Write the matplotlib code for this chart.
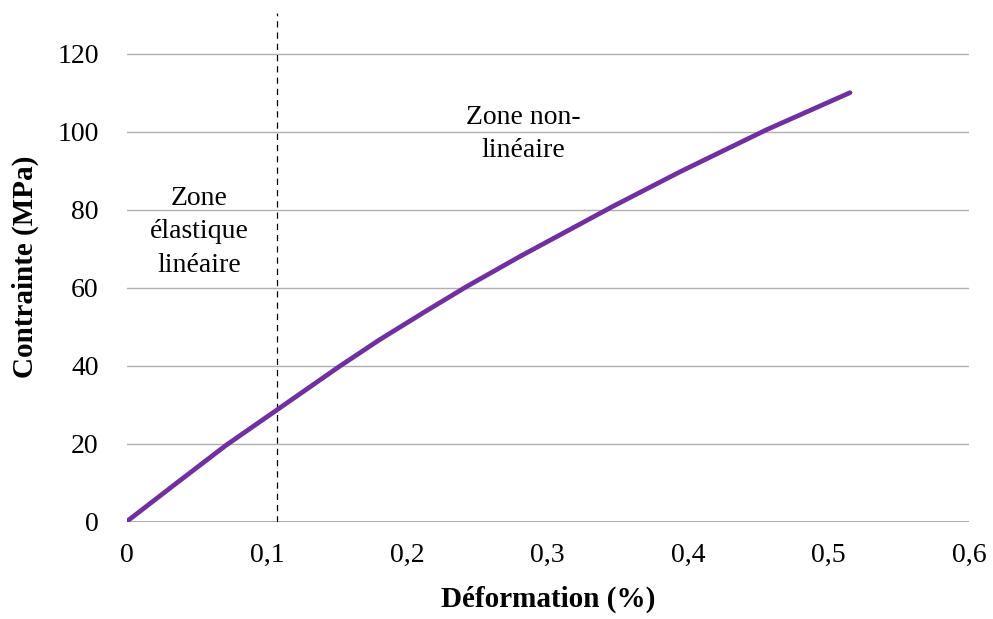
import matplotlib
matplotlib.use("Agg")
import matplotlib.pyplot as plt

# Data
strain = [0, 0.0353, 0.0709, 0.1065, 0.1516, 0.180, 0.2133, 0.2423, 0.2802,
          0.3467, 0.3942, 0.4227, 0.4559, 0.5153]
stress = [0, 9.8, 19.6, 28.5, 39.8, 46.6, 54.0, 60.3, 68.0,
          80.9, 89.7, 94.7, 100.5, 110.0]
x_ticks = [0, 0.1, 0.2, 0.3, 0.4, 0.5, 0.6]
x_tick_labels = ["0", "0,1", "0,2", "0,3", "0,4", "0,5", "0,6"]
y_ticks = [0, 20, 40, 60, 80, 100, 120]
y_tick_labels = ["0", "20", "40", "60", "80", "100", "120"]
limit_strain = 0.107

plt.rcParams['font.family'] = ['Liberation Serif', 'DejaVu Serif']

fig = plt.figure(figsize=(9.93, 6.19), dpi=100)
ax = fig.add_axes([0.1274, 0.1572, 0.8484, 0.8223])

ax.set_xlim(0, 0.6)
ax.set_ylim(0, 130.5)

for yt in y_ticks[1:]:
    ax.axhline(yt, color='#b0b0b0', lw=1.0, zorder=1)
ax.axhline(0, color='#a0a0a0', lw=1.2, zorder=1)

ax.plot(strain, stress, color='#7030A0', lw=3.4, solid_capstyle='round',
        solid_joinstyle='round', zorder=3)
ax.axvline(limit_strain, color='black', lw=0.9, ls=(0, (5, 4)), zorder=2)

ax.text(0.052, 74.3, "Zone\nélastique\nlinéaire", ha='center', va='center',
        fontsize=20, linespacing=1.45)
ax.text(0.2824, 99.4, "Zone non-\nlinéaire", ha='center', va='center',
        fontsize=20, linespacing=1.45)

ax.set_xticks(x_ticks)
ax.set_xticklabels(x_tick_labels)
ax.set_yticks(y_ticks)
ax.set_yticklabels(y_tick_labels)
ax.tick_params(axis='both', length=0, labelsize=20)
ax.tick_params(axis='x', pad=15)
ax.tick_params(axis='y', pad=20)

for s in ax.spines.values():
    s.set_visible(False)

ax.set_xlabel("Déformation (%)", fontsize=21, fontweight='bold', labelpad=13)
ax.set_ylabel("Contrainte (MPa)", fontsize=21, fontweight='bold', labelpad=13)

fig.savefig("out.png", dpi=100)
